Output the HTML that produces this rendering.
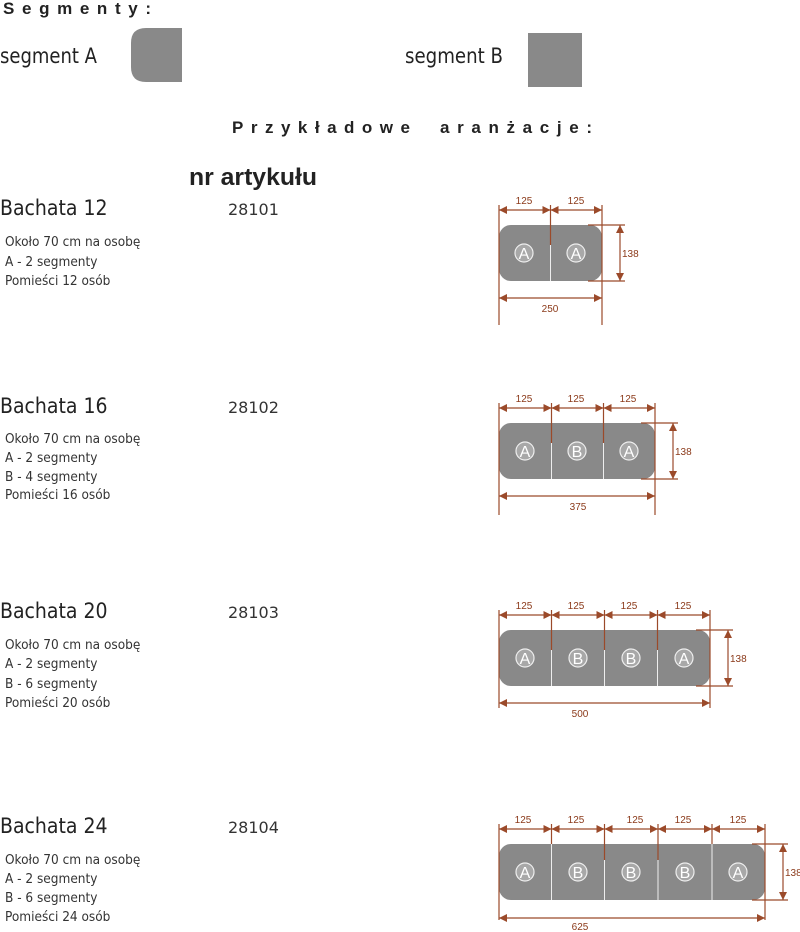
<!DOCTYPE html>
<html><head><meta charset="utf-8"><style>
body{margin:0;background:#fff;width:800px;height:932px;overflow:hidden}
svg{display:block}
.h{font-family:"Liberation Sans",sans-serif;font-weight:bold;font-size:17px;fill:#222}
.t{font-family:"DejaVu Sans Condensed","Liberation Sans",sans-serif;font-size:21px;fill:#222}
.n{font-family:"DejaVu Sans","Liberation Sans",sans-serif;font-size:16px;fill:#333}
.d{font-family:"DejaVu Sans Condensed","Liberation Sans",sans-serif;font-size:13.5px;fill:#333}
.dl{font-family:"Liberation Sans",sans-serif;font-size:10px;fill:#8b3a1a}
.c{font-family:"Liberation Sans",sans-serif;font-size:16px;fill:#fff}
.dim{stroke:#9b4a2a;stroke-width:1.2;fill:none}
</style></head><body>
<svg width="800" height="932" viewBox="0 0 800 932" xmlns="http://www.w3.org/2000/svg">
<defs>
<marker id="a" viewBox="0 0 10 10" refX="10" refY="5" markerWidth="8" markerHeight="8" orient="auto-start-reverse" markerUnits="userSpaceOnUse"><path d="M0,0L10,5L0,10z" fill="#9b4a2a"/></marker>
<g id="cA"><circle r="9" fill="#a8a8a8" stroke="#eee" stroke-width="1.2"/><text class="c" y="6" text-anchor="middle">A</text></g>
<g id="cB"><circle r="9" fill="#a8a8a8" stroke="#eee" stroke-width="1.2"/><text class="c" y="6" text-anchor="middle">B</text></g>
</defs>
<text x="3" y="14" class="h" textLength="148" lengthAdjust="spacing">Segmenty:</text>
<text x="0" y="63" class="t" textLength="97" lengthAdjust="spacingAndGlyphs">segment A</text>
<path d="M146,28H182V82H146Q131,82 131,67V43Q131,28 146,28Z" fill="#898989"/>
<text x="405" y="63" class="t" textLength="98" lengthAdjust="spacingAndGlyphs">segment B</text>
<rect x="528" y="33" width="54" height="54" fill="#898989"/>
<text x="232" y="133" class="h" textLength="178" lengthAdjust="spacing">Przykładowe</text>
<text x="440" y="133" class="h" textLength="152" lengthAdjust="spacing">aranżacje:</text>
<text x="189" y="185" font-family="Liberation Sans,sans-serif" font-weight="bold" font-size="24" fill="#222" textLength="128" lengthAdjust="spacingAndGlyphs">nr artykułu</text>

<text x="0" y="215" class="t">Bachata 12</text><text x="228" y="215" class="n">28101</text>
<text x="5" y="246" class="d">Około 70 cm na osobę</text><text x="5" y="266" class="d">A - 2 segmenty</text><text x="5" y="285" class="d">Pomieści 12 osób</text>
<text x="0" y="413" class="t">Bachata 16</text><text x="228" y="413" class="n">28102</text>
<text x="5" y="443" class="d">Około 70 cm na osobę</text><text x="5" y="462" class="d">A - 2 segmenty</text><text x="5" y="481" class="d">B - 4 segmenty</text><text x="5" y="499" class="d">Pomieści  16 osób</text>
<text x="0" y="618" class="t">Bachata 20</text><text x="228" y="618" class="n">28103</text>
<text x="5" y="649" class="d">Około 70 cm na osobę</text><text x="5" y="668" class="d">A - 2 segmenty</text><text x="5" y="688" class="d">B - 6 segmenty</text><text x="5" y="707" class="d">Pomieści 20 osób</text>
<text x="0" y="833" class="t">Bachata 24</text><text x="228" y="833" class="n">28104</text>
<text x="5" y="864" class="d">Około 70 cm na osobę</text><text x="5" y="883" class="d">A - 2 segmenty</text><text x="5" y="902" class="d">B - 6 segmenty</text><text x="5" y="921" class="d">Pomieści 24 osób</text>

<g>
<rect x="499" y="225" width="103" height="56" rx="12" fill="#898989"/>
<line x1="550.5" y1="225" x2="550.5" y2="281" stroke="#eee"/>
<use href="#cA" x="524" y="253"/><use href="#cA" x="576" y="253"/>
<path class="dim" d="M499,205V325M550.5,205V245M602,205V325M588,225H625M588,281H625"/>
<line class="dim" x1="499" y1="210" x2="550.5" y2="210" marker-start="url(#a)" marker-end="url(#a)"/>
<line class="dim" x1="550.5" y1="210" x2="602" y2="210" marker-start="url(#a)" marker-end="url(#a)"/>
<line class="dim" x1="499" y1="298" x2="602" y2="298" marker-start="url(#a)" marker-end="url(#a)"/>
<line class="dim" x1="620" y1="225" x2="620" y2="281" marker-start="url(#a)" marker-end="url(#a)"/>
<text class="dl" x="524" y="204" text-anchor="middle">125</text><text class="dl" x="576" y="204" text-anchor="middle">125</text>
<text class="dl" x="550" y="312" text-anchor="middle">250</text><text class="dl" x="622" y="257">138</text>
</g>
<g>
<rect x="499" y="423" width="156" height="56" rx="12" fill="#898989"/>
<path d="M551.5,423V479M603.5,423V479" stroke="#eee"/>
<use href="#cA" x="525" y="451"/><use href="#cB" x="577" y="451"/><use href="#cA" x="629" y="451"/>
<path class="dim" d="M499,403V515M551.5,403V443M603.5,403V443M655,403V515M641,423H678M641,479H678"/>
<line class="dim" x1="499" y1="408" x2="551.5" y2="408" marker-start="url(#a)" marker-end="url(#a)"/>
<line class="dim" x1="551.5" y1="408" x2="603.5" y2="408" marker-start="url(#a)" marker-end="url(#a)"/>
<line class="dim" x1="603.5" y1="408" x2="655" y2="408" marker-start="url(#a)" marker-end="url(#a)"/>
<line class="dim" x1="499" y1="496" x2="655" y2="496" marker-start="url(#a)" marker-end="url(#a)"/>
<line class="dim" x1="673" y1="423" x2="673" y2="479" marker-start="url(#a)" marker-end="url(#a)"/>
<text class="dl" x="524" y="402" text-anchor="middle">125</text><text class="dl" x="576" y="402" text-anchor="middle">125</text><text class="dl" x="628" y="402" text-anchor="middle">125</text>
<text class="dl" x="578" y="510" text-anchor="middle">375</text><text class="dl" x="675" y="455">138</text>
</g>
<g>
<rect x="499" y="630" width="211" height="56" rx="12" fill="#898989"/>
<path d="M551.5,630V686M604.5,630V686M657.5,630V686" stroke="#eee"/>
<use href="#cA" x="525" y="658"/><use href="#cB" x="578" y="658"/><use href="#cB" x="631" y="658"/><use href="#cA" x="684" y="658"/>
<path class="dim" d="M499,610V708M551.5,610V650M604.5,610V650M657.5,610V650M710,610V708M696,630H733M696,686H733"/>
<line class="dim" x1="499" y1="615" x2="551.5" y2="615" marker-start="url(#a)" marker-end="url(#a)"/>
<line class="dim" x1="551.5" y1="615" x2="604.5" y2="615" marker-start="url(#a)" marker-end="url(#a)"/>
<line class="dim" x1="604.5" y1="615" x2="657.5" y2="615" marker-start="url(#a)" marker-end="url(#a)"/>
<line class="dim" x1="657.5" y1="615" x2="710" y2="615" marker-start="url(#a)" marker-end="url(#a)"/>
<line class="dim" x1="499" y1="703" x2="710" y2="703" marker-start="url(#a)" marker-end="url(#a)"/>
<line class="dim" x1="728" y1="630" x2="728" y2="686" marker-start="url(#a)" marker-end="url(#a)"/>
<text class="dl" x="524" y="609" text-anchor="middle">125</text><text class="dl" x="576" y="609" text-anchor="middle">125</text><text class="dl" x="629" y="609" text-anchor="middle">125</text><text class="dl" x="683" y="609" text-anchor="middle">125</text>
<text class="dl" x="580" y="717" text-anchor="middle">500</text><text class="dl" x="730" y="662">138</text>
</g>
<g>
<rect x="499" y="844" width="266" height="56" rx="12" fill="#898989"/>
<path d="M551.5,844V900M604.5,844V900M658,844V900M712,844V900" stroke="#eee"/>
<use href="#cA" x="525" y="872"/><use href="#cB" x="578" y="872"/><use href="#cB" x="631" y="872"/><use href="#cB" x="685" y="872"/><use href="#cA" x="738" y="872"/>
<path class="dim" d="M499,824V920M551.5,824V844M604.5,824V860M658,824V860M712,824V844M765,824V920M752,844H788M752,900H788"/>
<line class="dim" x1="499" y1="829" x2="551.5" y2="829" marker-start="url(#a)" marker-end="url(#a)"/>
<line class="dim" x1="551.5" y1="829" x2="604.5" y2="829" marker-start="url(#a)" marker-end="url(#a)"/>
<line class="dim" x1="604.5" y1="829" x2="658" y2="829" marker-start="url(#a)" marker-end="url(#a)"/>
<line class="dim" x1="658" y1="829" x2="712" y2="829" marker-start="url(#a)" marker-end="url(#a)"/>
<line class="dim" x1="712" y1="829" x2="765" y2="829" marker-start="url(#a)" marker-end="url(#a)"/>
<line class="dim" x1="499" y1="918" x2="765" y2="918" marker-start="url(#a)" marker-end="url(#a)"/>
<line class="dim" x1="783" y1="844" x2="783" y2="900" marker-start="url(#a)" marker-end="url(#a)"/>
<text class="dl" x="523" y="823" text-anchor="middle">125</text><text class="dl" x="576" y="823" text-anchor="middle">125</text><text class="dl" x="635" y="823" text-anchor="middle">125</text><text class="dl" x="683" y="823" text-anchor="middle">125</text><text class="dl" x="738" y="823" text-anchor="middle">125</text>
<text class="dl" x="580" y="930" text-anchor="middle">625</text><text class="dl" x="785" y="876">138</text>
</g>
</svg>
</body></html>
